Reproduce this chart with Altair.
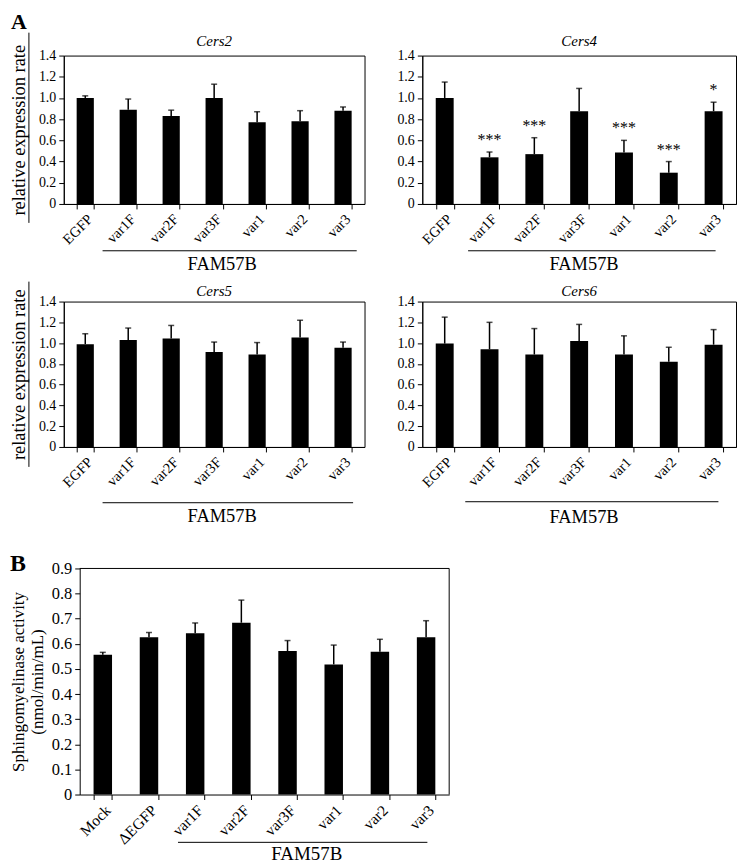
import altair as alt
import pandas as pd

FONT = "Liberation Serif"

cats = ["EGFP", "var1F", "var2F", "var3F", "var1", "var2", "var3"]
cers2_val = [1.00, 0.89, 0.83, 1.00, 0.77, 0.78, 0.88]
cers2_err = [1.02, 0.99, 0.885, 1.13, 0.87, 0.88, 0.915]
cers4_val = [1.00, 0.44, 0.47, 0.875, 0.485, 0.295, 0.875]
cers4_err = [1.15, 0.49, 0.625, 1.09, 0.60, 0.40, 0.96]
cers4_sig = ["", "***", "***", "", "***", "***", "*"]
cers5_val = [0.99, 1.03, 1.045, 0.915, 0.89, 1.055, 0.955]
cers5_err = [1.09, 1.145, 1.17, 1.01, 1.005, 1.22, 1.01]
cers6_val = [0.995, 0.94, 0.89, 1.02, 0.89, 0.82, 0.985]
cers6_err = [1.25, 1.20, 1.14, 1.18, 1.07, 0.96, 1.13]

b_cats = ["Mock", "\u0394EGFP", "var1F", "var2F", "var3F", "var1", "var2", "var3"]
b_val = [0.556, 0.626, 0.642, 0.684, 0.571, 0.518, 0.568, 0.626]
b_err = [0.566, 0.645, 0.683, 0.774, 0.613, 0.595, 0.618, 0.692]

expr_ticks = [0, 0.2, 0.4, 0.6, 0.8, 1.0, 1.2, 1.4]
b_ticks = [0, 0.1, 0.2, 0.3, 0.4, 0.5, 0.6, 0.7, 0.8, 0.9]


def panel(categories, vals, errs, width, height, ymax, ticks, ytitle=None,
          title=None, title_y=-14, sig=None, line_y=47, line_x=(0.13, 0.97),
          fam_y=60, fam_x=0.52, letter=None, letter_xy=(0, 0), sep=None,
          ytitle_pad=10, ytitle_size=18.5, label_size=14, xlabel_size=14.5,
          fam_size=18.5, shift=0, letter_size=22):
    # shift: left gap (px) inside the panel before the visible frame
    full_w = width + shift
    df = pd.DataFrame({"cat": categories, "val": vals, "err": errs,
                       "sig": sig if sig else [""] * len(categories)})
    xaxis = alt.Axis(title="FAM57B", labelAngle=-45, tickBand="extent",
                     titleX=shift + fam_x * width, titleY=fam_y,
                     titleBaseline="middle", titleFontSize=fam_size,
                     labelFontSize=xlabel_size, labelOverlap=False)
    if shift:
        xscale = alt.Scale(paddingInner=0.6, paddingOuter=0.3,
                           range=[shift, full_w])
    else:
        xscale = alt.Scale(paddingInner=0.6, paddingOuter=0.3)
    yaxis = dict(values=ticks, format=".1f", labelOverlap=False,
                 labelFontSize=label_size,
                 labelExpr="datum.value == 0 ? '0' : datum.label")
    if shift:
        yaxis["offset"] = -shift
    if ytitle:
        yaxis.update(title=ytitle, titlePadding=ytitle_pad,
                     titleFontSize=ytitle_size)
    else:
        yaxis.update(title=None)
    yax = alt.Axis(**yaxis)
    yscale = alt.Scale(domain=[0, ymax], nice=False)

    def X():
        return alt.X("cat:N", sort=categories, scale=xscale, axis=xaxis)

    def Y(field):
        return alt.Y(field, scale=yscale, axis=yax)

    base = alt.Chart(df)
    layers = [
        base.mark_bar(color="black").encode(x=X(), y=Y("val:Q")),
        base.mark_rule(color="black", strokeWidth=1.5).encode(
            x=X(), y=Y("val:Q"), y2="err:Q"),
        base.mark_tick(color="black", thickness=1.5, size=6).encode(
            x=X(), y=Y("err:Q")),
    ]
    if sig:
        layers.append(base.mark_text(font=FONT, fontSize=16, baseline="alphabetic",
                                     dy=-7, color="black").encode(
            x=X(), y=Y("err:Q"), text="sig:N"))
    one = alt.Chart(pd.DataFrame({"k": [0]}))
    layers.append(one.mark_rule(color="black", strokeWidth=1).encode(
        x=alt.value(shift + line_x[0] * width), x2=alt.value(shift + line_x[1] * width),
        y=alt.value(height + line_y)))
    if shift:
        layers.append(one.mark_rule(color="black", strokeWidth=1).encode(
            x=alt.value(shift), x2=alt.value(full_w), y=alt.value(0)))
        layers.append(one.mark_rule(color="black", strokeWidth=1).encode(
            x=alt.value(full_w), y=alt.value(0), y2=alt.value(height)))
    if title:
        layers.append(one.mark_text(text=title, font=FONT, fontSize=15,
                                    fontStyle="italic", align="center",
                                    baseline="middle", color="black").encode(
            x=alt.value(shift + width / 2), y=alt.value(title_y)))
    if sep:
        layers.append(one.mark_rule(color="black", strokeWidth=1).encode(
            x=alt.value(sep[0]), y=alt.value(sep[1]), y2=alt.value(height + sep[2])))
    if letter:
        layers.append(one.mark_text(text=letter, font=FONT, fontSize=letter_size,
                                    fontWeight="bold", align="left",
                                    baseline="top", color="black").encode(
            x=alt.value(shift + letter_xy[0]), y=alt.value(letter_xy[1])))
    ch = alt.layer(*layers).properties(width=full_w, height=height)
    if shift:
        ch = ch.properties(view=alt.ViewBackground(stroke="transparent"))
    return ch


WL, WR = 302, 315
H1, H2 = 149, 146

c2 = panel(cats, cers2_val, cers2_err, WL, H1, 1.4, expr_ticks,
           ytitle="relative expression rate", title="Cers2", title_y=-15,
           line_y=47, line_x=(0.129, 0.974), fam_y=60, fam_x=0.525,
           letter="A", letter_xy=(-53, -44), sep=(-35, -23, 19))
c4 = panel(cats, cers4_val, cers4_err, WR, H1, 1.4, expr_ticks,
           title="Cers4", title_y=-15, sig=cers4_sig,
           line_y=47, line_x=(0.146, 0.935), fam_y=60, fam_x=0.514)
c5 = panel(cats, cers5_val, cers5_err, WL, H2, 1.4, expr_ticks,
           ytitle="relative expression rate", title="Cers5", title_y=-11,
           line_y=56, line_x=(0.129, 0.962), fam_y=69, fam_x=0.525,
           sep=(-35, -20, 20))
c6 = panel(cats, cers6_val, cers6_err, WR, H2, 1.4, expr_ticks,
           title="Cers6", title_y=-11,
           line_y=55, line_x=(0.137, 0.944), fam_y=70, fam_x=0.514)
b = panel(b_cats, b_val, b_err, 371, 227, 0.9, b_ticks,
          ytitle=["Sphingomyelinase activity", "(nmol/min/mL)"],
          line_y=48, line_x=(0.266, 0.941), fam_y=59, fam_x=0.613,
          letter="B", letter_xy=(-70, -16), ytitle_pad=5, ytitle_size=17,
          label_size=16.5, xlabel_size=15.5, fam_size=19, shift=16,
          letter_size=24)

row1 = alt.hconcat(c2, c4, spacing=31)
row2 = alt.hconcat(c5, c6, spacing=31)
top = alt.vconcat(row1, row2, spacing=7)

chart = alt.vconcat(top, b, spacing=25).properties(
    padding={"left": 0, "top": 0, "right": 0, "bottom": 0}
).configure_axis(
    labelFont=FONT, titleFont=FONT, labelFontSize=14, titleFontWeight="normal",
    labelColor="black", titleColor="black", domainColor="black",
    tickColor="black", tickSize=5, grid=False, labelPadding=3,
    domainWidth=1, tickWidth=1, labelOverlap=False
).configure_view(stroke="black", strokeWidth=1)

chart.save("out.html", embed_options={"renderer": "svg", "actions": False})
